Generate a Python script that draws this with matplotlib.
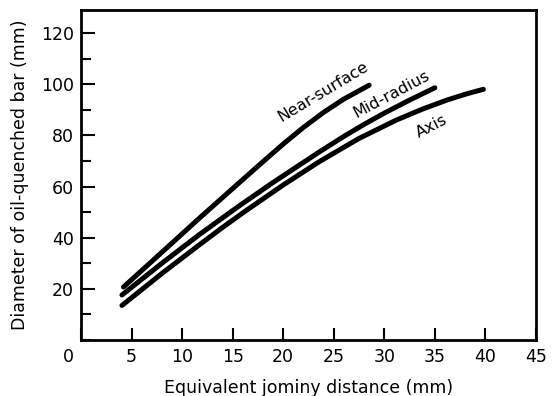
import numpy as np
import matplotlib
matplotlib.use("Agg")
import matplotlib.pyplot as plt
import matplotlib.transforms as mtransforms
from matplotlib.ticker import MultipleLocator

plt.rcParams['font.family'] = ['DejaVu Sans']

# readings from the chart: equivalent jominy distance (mm) vs bar diameter (mm)
near_x = [4.2, 8.0, 11.7, 15.0, 18.0, 20.0, 22.0, 24.0, 26.0, 28.5]
near_y = [20.7, 34.3, 47.6, 59.2, 69.7, 76.6, 83.1, 89.0, 94.2, 99.6]

mid_x = [4.05, 8.0, 11.7, 15.6, 19.0, 23.6, 26.0, 28.0, 30.0, 32.5, 35.0]
mid_y = [17.6, 30.0, 41.2, 52.3, 61.6, 73.6, 79.6, 84.3, 88.7, 93.8, 98.6]

axis_x = [4.05, 8.0, 11.7, 14.0, 16.4, 20.0, 23.6, 27.5, 31.2, 33.8, 36.2,
          38.2, 39.8]
axis_y = [13.5, 26.0, 37.2, 44.0, 50.8, 60.6, 69.8, 78.8, 86.0, 90.3, 93.8,
          96.3, 98.0]

xticks = [0, 5, 10, 15, 20, 25, 30, 35, 40, 45]
yticks = [20, 40, 60, 80, 100, 120]

fig = plt.figure(figsize=(5.54, 3.96), dpi=100)
ax = fig.add_axes([81 / 554, 56 / 396, 455 / 554, 330 / 396])

for xs, ys in [(near_x, near_y), (mid_x, mid_y), (axis_x, axis_y)]:
    ax.plot(xs, ys, color='black', lw=3.6, solid_capstyle='round',
            solid_joinstyle='round')

# curve names written along the lines
ax.text(23.9, 97.0, 'Near-surface', rotation=31, ha='center', va='center',
        rotation_mode='anchor', fontsize=11.5)
ax.text(30.7, 96.0, 'Mid-radius', rotation=28, ha='center', va='center',
        rotation_mode='anchor', fontsize=11.5)
ax.text(34.7, 83.3, 'Axis', rotation=27, ha='center', va='center',
        rotation_mode='anchor', fontsize=11.5)

ax.set_xlim(0, 45)
ax.set_ylim(0, 129)
ax.set_xticks(xticks)
ax.set_yticks(yticks)
ax.yaxis.set_minor_locator(MultipleLocator(10))

ax.tick_params(axis='x', direction='in', length=8.5, width=1.5,
               labelsize=12.5, pad=6)
ax.tick_params(axis='y', which='major', direction='in', length=10, width=1.5,
               labelsize=12.5, pad=5)
ax.tick_params(axis='y', which='minor', direction='in', length=7, width=1.5)

for sp in ax.spines.values():
    sp.set_linewidth(2)

ax.set_xlabel('Equivalent jominy distance (mm)', fontsize=12.5, labelpad=9)
ax.set_ylabel('Diameter of oil-quenched bar (mm)', fontsize=12.5, labelpad=9)

# the "0" label sits a bit left of the axis corner
lab0 = ax.xaxis.get_major_ticks()[0].label1
lab0.set_transform(lab0.get_transform() +
                   mtransforms.ScaledTranslation(-0.13, 0, fig.dpi_scale_trans))

fig.savefig('out.png', dpi=100)
